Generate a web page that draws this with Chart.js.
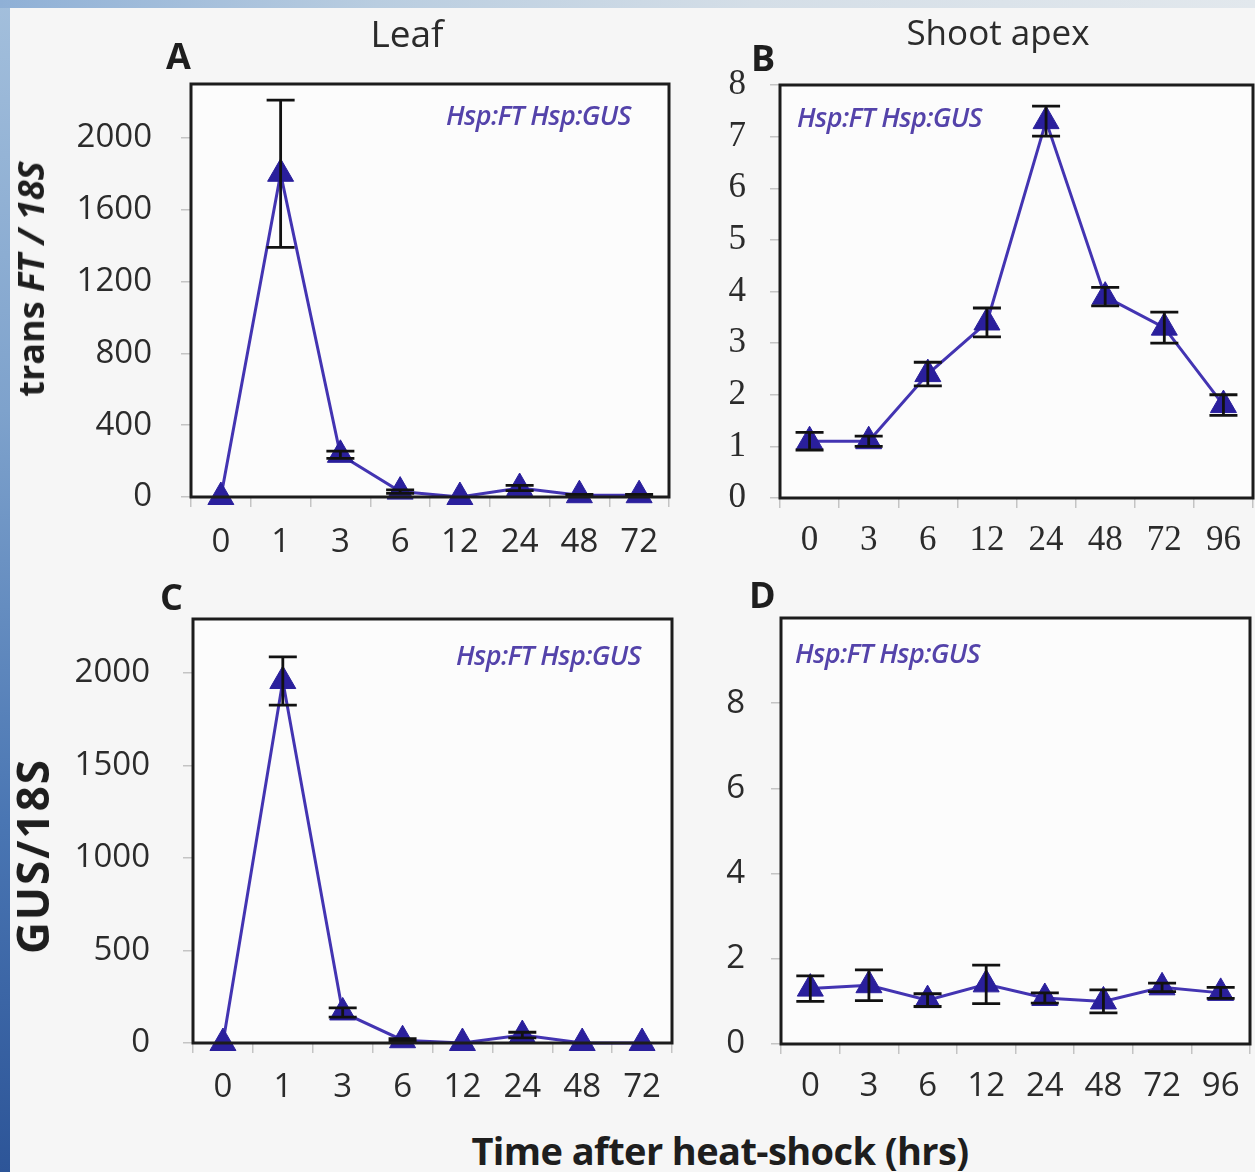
<!DOCTYPE html>
<html><head><meta charset="utf-8">
<script src="https://cdn.jsdelivr.net/npm/chart.js@4.4.1/dist/chart.umd.min.js"></script>
<style>
html,body{margin:0;padding:0;}
body{width:1255px;height:1172px;position:relative;overflow:hidden;background:#f6f6f6;font-family:"Open Sans",sans-serif;color:#2b2b2b;}
#leftbar{position:absolute;left:0;top:0;width:10px;height:1172px;background:linear-gradient(#a3bfdc,#7ea2cc 35%,#4a76b3 70%,#2d5598);}
#topbar{position:absolute;left:0;top:0;width:1255px;height:8px;background:linear-gradient(90deg,#8fb0d6,#b9cde0 30%,#d4dee7 60%,#e2e8ed);}
canvas{position:absolute;}
.t{position:absolute;white-space:nowrap;line-height:1;}
.lbl{font-weight:bold;font-size:36px;color:#1e1e1e;}
.ttl{font-size:35px;color:#2b2b2b;transform:translateX(-50%);}
.leg{font-style:italic;font-weight:600;font-size:27px;color:#5443aa;letter-spacing:-0.6px;}
.ax{font-weight:bold;color:#1e1e1e;}
</style></head><body>
<div id="leftbar"></div><div id="topbar"></div>
<canvas id="cA" width="640" height="520" style="left:40px;top:50px"></canvas>
<canvas id="cB" width="565" height="520" style="left:690px;top:50px"></canvas>
<canvas id="cC" width="645" height="530" style="left:40px;top:580px"></canvas>
<canvas id="cD" width="565" height="530" style="left:690px;top:580px"></canvas>

<div class="t ttl" style="left:407px;top:14px;font-size:37px">Leaf</div>
<div class="t ttl" style="left:998px;top:14px">Shoot apex</div>
<div class="t lbl" style="left:166px;top:38px">A</div>
<div class="t lbl" style="left:751px;top:40px">B</div>
<div class="t lbl" style="left:160px;top:579px">C</div>
<div class="t lbl" style="left:749px;top:577px">D</div>
<div class="t leg" style="left:446px;top:101px">Hsp:FT Hsp:GUS</div>
<div class="t leg" style="left:797px;top:103px">Hsp:FT Hsp:GUS</div>
<div class="t leg" style="left:456px;top:641px">Hsp:FT Hsp:GUS</div>
<div class="t leg" style="left:795px;top:639px">Hsp:FT Hsp:GUS</div>
<div class="t ax" style="left:31px;top:279px;font-size:36px;transform:translate(-50%,-50%) rotate(-90deg)">trans <i>FT / 18S</i></div>
<div class="t ax" style="left:32px;top:856px;font-size:44px;letter-spacing:2px;transform:translate(-50%,-50%) rotate(-90deg)">GUS/18S</div>
<div class="t ax" style="left:720px;top:1131px;font-size:38px;transform:translateX(-50%);letter-spacing:-0.6px">Time after heat-shock (hrs)</div>

<script>
// ---- data ----
const leafTimes = ['0','1','3','6','12','24','48','72'];
const apexTimes = ['0','3','6','12','24','48','72','96'];
const leafFT = [0, 1800, 235, 30, 0, 50, 10, 10];
const leafFTErr = [0, 410, 20, 10, 0, 15, 5, 5];
const apexFT = [1.1, 1.1, 2.4, 3.4, 7.3, 3.9, 3.3, 1.8];
const apexFTErr = [0.17, 0.1, 0.23, 0.28, 0.29, 0.18, 0.3, 0.2];
const leafGUS = [0, 1955, 165, 15, 0, 43, 0, 0];
const leafGUSErr = [0, 130, 25, 8, 0, 15, 0, 0];
const apexGUS = [1.3, 1.38, 1.03, 1.4, 1.08, 1.0, 1.33, 1.2];
const apexGUSErr = [0.3, 0.36, 0.15, 0.45, 0.12, 0.27, 0.1, 0.13];
const yTicksA = [0, 400, 800, 1200, 1600, 2000];
const yTicksB = [0, 1, 2, 3, 4, 5, 6, 7, 8];
const yTicksC = [0, 500, 1000, 1500, 2000];
const yTicksD = [0, 2, 4, 6, 8];

const LINE = '#4334b2';
const MARK = '#2a1f9c';

const framePlugin = {
  id: 'frame',
  beforeDraw(chart) {
    const a = chart.chartArea, c = chart.ctx;
    c.save(); c.fillStyle = '#fcfcfc';
    c.fillRect(a.left, a.top, a.right - a.left, a.bottom - a.top);
    c.restore();
  },
  afterDraw(chart) {
    const a = chart.chartArea, c = chart.ctx;
    c.save(); c.strokeStyle = '#1c1c1c'; c.lineWidth = 3;
    c.strokeRect(a.left, a.top, a.right - a.left, a.bottom - a.top);
    c.restore();
  }
};
const errPlugin = {
  id: 'errbars',
  afterDatasetsDraw(chart) {
    const c = chart.ctx, xs = chart.scales.x, ys = chart.scales.y;
    chart.data.datasets.forEach(ds => {
      const err = ds.errors; if (!err) return;
      c.save(); c.strokeStyle = '#111'; c.lineWidth = 2.8;
      ds.data.forEach((v, i) => {
        if (!err[i]) return;
        const x = xs.getPixelForValue(i);
        const y1 = ys.getPixelForValue(v + err[i]);
        const y0 = ys.getPixelForValue(Math.max(0, v - err[i]));
        c.beginPath();
        c.moveTo(x, y0); c.lineTo(x, y1);
        c.moveTo(x - 14, y1); c.lineTo(x + 14, y1);
        c.moveTo(x - 14, y0); c.lineTo(x + 14, y0);
        c.stroke();
      });
      c.restore();
    });
  }
};

function make(id, labels, values, errors, yMax, yTicks, cfg) {
  const tickFont = {family: cfg.serif ? '"Liberation Serif", serif' : '"Open Sans", sans-serif', size: cfg.fontSize};
  new Chart(document.getElementById(id), {
    type: 'line',
    data: {labels: labels, datasets: [{
      data: values, errors: errors,
      borderColor: LINE, borderWidth: 3,
      pointStyle: 'triangle', pointRadius: 15,
      pointBackgroundColor: MARK, pointBorderColor: MARK, pointBorderWidth: 1,
      tension: 0, clip: false
    }]},
    options: {
      responsive: false, animation: false, events: [],
      layout: {autoPadding: false, padding: {top: cfg.padTop, right: cfg.padRight, left: 0, bottom: 0}},
      plugins: {legend: {display: false}, tooltip: {enabled: false}},
      scales: {
        x: {
          type: 'category', offset: true,
          grid: {offset: true, drawOnChartArea: false, drawTicks: true, tickLength: 10, color: '#c4c4c4', lineWidth: 1.5},
          border: {display: false},
          ticks: {padding: cfg.xPad, color: '#2b2b2b', font: tickFont, maxRotation: 0, autoSkip: false},
          afterFit: s => { s.height = cfg.xH; s.paddingLeft = 0; s.paddingRight = 0; }
        },
        y: {
          min: 0, max: yMax,
          afterBuildTicks: s => { s.ticks = yTicks.map(v => ({value: v})); },
          grid: {drawOnChartArea: false, drawTicks: true, tickLength: 10, color: '#c4c4c4', lineWidth: 1.5},
          border: {display: false},
          ticks: {padding: cfg.yPad, color: '#2b2b2b', font: tickFont, callback: v => String(v)},
          afterFit: s => { s.width = cfg.yW; s.paddingTop = 0; s.paddingBottom = 0; }
        }
      }
    },
    plugins: [framePlugin, errPlugin]
  });
}

make('cA', leafTimes, leafFT, leafFTErr, 2300, yTicksA,
  {padTop: 34, padRight: 11, yW: 151, xH: 73, yPad: 29, xPad: 16, fontSize: 33});
make('cB', apexTimes, apexFT, apexFTErr, 8, yTicksB,
  {padTop: 35, padRight: 2, yW: 90, xH: 72, yPad: 24, xPad: 12, fontSize: 35, serif: true});
make('cC', leafTimes, leafGUS, leafGUSErr, 2290, yTicksC,
  {padTop: 39, padRight: 13, yW: 153, xH: 67, yPad: 33, xPad: 15, fontSize: 33});
make('cD', apexTimes, apexGUS, apexGUSErr, 10, yTicksD,
  {padTop: 38, padRight: 5, yW: 91, xH: 66, yPad: 26, xPad: 13, fontSize: 33});
</script>
</body></html>
